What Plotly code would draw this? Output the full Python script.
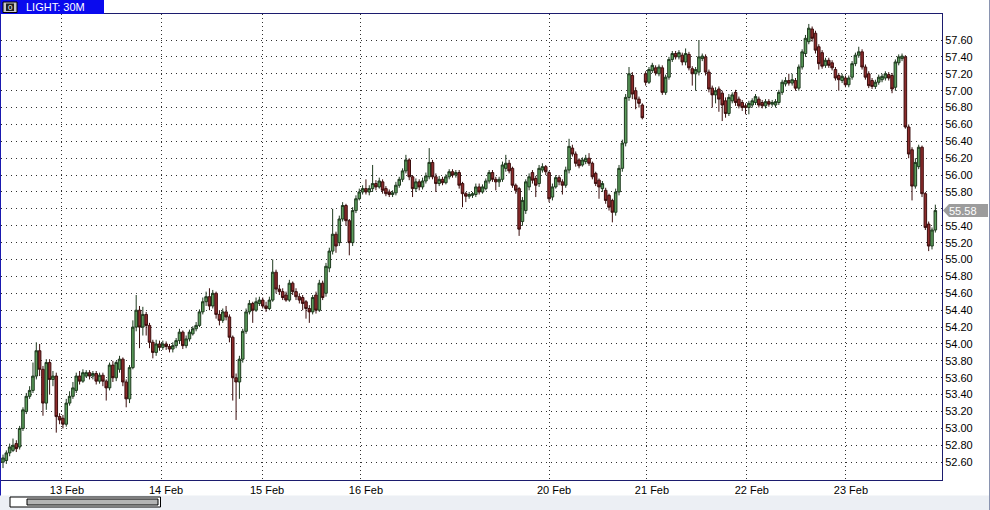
import plotly.graph_objects as go

# ---------------- data (30-minute bars, LIGHT crude) ----------------
opens = [
    52.60, 52.62, 52.71, 52.74, 52.82, 52.78, 53.00, 53.20, 53.38, 53.45, 53.62, 53.92, 53.70, 53.30, 53.78, 53.58, 53.62, 53.14,
    53.12, 53.05, 53.30, 53.38, 53.45, 53.62, 53.56, 53.62, 53.66, 53.62, 53.65, 53.56, 53.63, 53.56, 53.48, 53.75, 53.60, 53.70, 53.82, 53.55, 53.35, 53.72, 54.20, 54.40, 54.20, 54.35, 54.22, 54.02, 53.90, 54.00,
    53.96, 54.00, 53.97, 53.94, 53.98, 54.04, 54.14, 53.98, 54.06, 54.12, 54.18, 54.22, 54.38, 54.50, 54.56, 54.45, 54.60, 54.35, 54.28, 54.38, 54.32, 54.08, 53.60, 53.55, 53.82, 54.15, 54.38, 54.48, 54.40, 54.48,
    54.52, 54.45, 54.42, 54.52, 54.85, 54.65, 54.62, 54.58, 54.52, 54.72, 54.62, 54.56, 54.55, 54.50, 54.42, 54.38, 54.58, 54.40, 54.72, 54.60, 54.90, 55.10, 55.30, 55.20, 55.48, 55.64, 55.46, 55.20, 55.58, 55.72,
    55.80, 55.84, 55.80, 55.84, 55.90, 55.86, 55.92, 55.84, 55.80, 55.77, 55.79, 55.88, 55.95, 56.05, 56.18, 55.98, 55.84, 55.92, 55.86, 55.93, 55.98, 56.15, 55.98, 55.90, 55.95, 55.91, 55.98, 56.04,
    56.00, 56.03, 55.90, 55.78, 55.75, 55.76, 55.77, 55.86, 55.80, 55.84, 55.93, 56.03, 55.95, 55.92, 55.95, 56.08, 56.14, 56.08, 55.88, 55.84, 55.45, 55.58, 55.86, 56.03, 55.96, 55.90, 56.06, 56.10,
    56.03, 55.74, 55.86, 55.97, 55.92, 55.88, 56.06, 56.32, 56.25, 56.18, 56.12, 56.16, 56.20, 56.14, 56.02, 55.94, 55.84, 55.82, 55.76, 55.70, 55.56, 55.80, 56.08, 56.38, 56.92, 57.18, 57.00, 56.90, 56.83,
    57.20, 57.10, 57.24, 57.27, 57.20, 57.27, 56.98, 57.16, 57.37, 57.44, 57.40, 57.42, 57.34, 57.43, 57.26, 57.20, 57.22, 57.38, 57.40, 57.22, 57.03, 56.95, 57.02, 56.97, 56.88, 56.73, 56.88, 56.98, 56.90, 56.86,
    56.82, 56.80, 56.83, 56.86, 56.90, 56.86, 56.82, 56.87, 56.84, 56.83, 56.86, 56.98, 57.08, 57.12, 57.09, 57.12, 57.03, 57.28, 57.44, 57.58, 57.73, 57.68, 57.52, 57.45, 57.30, 57.36, 57.33, 57.25, 57.18, 57.12,
    57.15, 57.07, 57.16, 57.32, 57.42, 57.46, 57.28, 57.20, 57.12, 57.05, 57.10, 57.13, 57.15, 57.19, 57.18, 57.04, 57.33, 57.38, 57.40, 56.57, 56.30, 55.87, 56.10, 56.33, 55.78, 55.42, 55.16, 55.35,
]
highs = [
    52.69, 52.74, 52.82, 52.88, 52.86, 53.03, 53.25, 53.42, 53.50, 53.78, 54.02, 54.00, 53.74, 53.82, 53.82, 53.68, 53.66, 53.18,
    53.16, 53.35, 53.44, 53.55, 53.66, 53.68, 53.70, 53.69, 53.69, 53.68, 53.68, 53.66, 53.66, 53.58, 53.78, 53.80, 53.80, 53.86, 53.84, 53.58, 53.75, 54.28, 54.58, 54.45, 54.44, 54.38, 54.25, 54.05, 54.05, 54.04,
    54.04, 54.03, 54.00, 54.02, 54.07, 54.18, 54.16, 54.10, 54.17, 54.21, 54.26, 54.41, 54.55, 54.62, 54.66, 54.64, 54.62, 54.40, 54.42, 54.45, 54.35, 54.10, 53.65, 53.86, 54.18, 54.42, 54.52, 54.50, 54.55, 54.56,
    54.55, 54.50, 54.56, 55.00, 54.88, 54.70, 54.66, 54.62, 54.76, 54.74, 54.66, 54.60, 54.58, 54.52, 54.46, 54.58, 54.62, 54.76, 54.75, 54.96, 55.14, 55.60, 55.33, 55.52, 55.68, 55.66, 55.48, 55.62, 55.76, 55.84,
    55.88, 55.95, 55.88, 56.12, 55.94, 55.97, 55.95, 55.87, 55.83, 55.82, 55.92, 55.98, 56.08, 56.24, 56.20, 56.00, 55.96, 55.95, 55.97, 56.03, 56.32, 56.18, 56.02, 55.99, 55.98, 56.01, 56.07, 56.07,
    56.06, 56.06, 55.92, 55.80, 55.80, 55.80, 55.90, 55.90, 55.89, 55.96, 56.06, 56.06, 55.98, 55.98, 56.16, 56.24, 56.18, 56.10, 55.90, 55.86, 55.74, 55.95, 56.02, 56.06, 55.99, 56.12, 56.14, 56.12,
    56.05, 55.90, 56.00, 56.00, 55.95, 56.10, 56.43, 56.36, 56.28, 56.20, 56.21, 56.24, 56.26, 56.16, 56.04, 55.96, 55.93, 55.85, 55.78, 55.72, 55.84, 56.12, 56.42, 56.96, 57.28, 57.22, 57.04, 56.93, 56.85,
    57.23, 57.28, 57.33, 57.30, 57.31, 57.30, 57.19, 57.40, 57.47, 57.47, 57.48, 57.45, 57.50, 57.46, 57.29, 57.28, 57.60, 57.44, 57.43, 57.25, 57.06, 57.04, 57.05, 57.00, 56.92, 56.96, 56.98, 57.01, 56.93, 56.89,
    56.85, 56.88, 56.91, 56.96, 56.93, 56.89, 56.90, 56.90, 56.89, 56.90, 57.01, 57.13, 57.16, 57.20, 57.20, 57.15, 57.31, 57.49, 57.66, 57.79, 57.76, 57.71, 57.55, 57.48, 57.39, 57.39, 57.36, 57.28, 57.21, 57.20,
    57.18, 57.18, 57.35, 57.45, 57.52, 57.49, 57.31, 57.23, 57.15, 57.13, 57.19, 57.20, 57.23, 57.22, 57.21, 57.37, 57.43, 57.44, 57.42, 56.60, 56.33, 56.20, 56.36, 56.35, 55.80, 55.45, 55.38, 55.65,
]
lows = [
    52.53, 52.58, 52.67, 52.72, 52.72, 52.75, 52.97, 53.17, 53.35, 53.42, 53.58, 53.62, 53.15, 53.22, 53.40, 53.50, 52.95, 53.05,
    53.00, 53.02, 53.27, 53.35, 53.42, 53.52, 53.54, 53.60, 53.58, 53.58, 53.52, 53.53, 53.50, 53.33, 53.45, 53.55, 53.56, 53.66, 53.50, 53.25, 53.30, 53.70, 54.15, 53.95, 54.10, 54.10, 53.95, 53.83, 53.86, 53.92,
    53.93, 53.93, 53.90, 53.90, 53.95, 54.00, 53.94, 53.95, 54.03, 54.10, 54.15, 54.20, 54.35, 54.45, 54.40, 54.42, 54.30, 54.22, 54.25, 54.28, 54.02, 53.33, 53.10, 53.35, 53.78, 54.12, 54.35, 54.25, 54.38, 54.45,
    54.42, 54.38, 54.40, 54.50, 54.60, 54.58, 54.52, 54.50, 54.50, 54.58, 54.52, 54.48, 54.40, 54.30, 54.25, 54.35, 54.36, 54.38, 54.52, 54.56, 54.85, 55.06, 55.08, 55.16, 55.45, 55.40, 55.05, 55.16, 55.55, 55.70,
    55.77, 55.77, 55.76, 55.80, 55.82, 55.84, 55.78, 55.75, 55.74, 55.74, 55.76, 55.85, 55.92, 56.02, 55.94, 55.74, 55.80, 55.82, 55.83, 55.90, 55.95, 55.95, 55.80, 55.87, 55.88, 55.89, 55.95, 55.97,
    55.97, 55.84, 55.62, 55.68, 55.72, 55.73, 55.74, 55.77, 55.78, 55.82, 55.90, 55.92, 55.82, 55.86, 55.92, 56.04, 56.02, 55.85, 55.78, 55.28, 55.40, 55.54, 55.82, 55.90, 55.74, 55.86, 56.03, 56.00,
    55.68, 55.70, 55.84, 55.88, 55.77, 55.85, 56.02, 56.22, 56.10, 56.08, 56.10, 56.13, 56.11, 55.95, 55.87, 55.72, 55.80, 55.66, 55.58, 55.44, 55.52, 55.76, 56.04, 56.34, 56.88, 56.90, 56.78, 56.80, 56.66,
    57.06, 57.08, 57.21, 57.18, 57.17, 56.95, 56.95, 57.13, 57.34, 57.37, 57.37, 57.30, 57.30, 57.24, 57.06, 57.00, 57.18, 57.35, 57.18, 56.98, 56.80, 56.85, 56.75, 56.64, 56.68, 56.70, 56.85, 56.82, 56.79, 56.76,
    56.72, 56.72, 56.80, 56.83, 56.80, 56.79, 56.79, 56.81, 56.81, 56.80, 56.83, 56.95, 57.05, 57.06, 57.06, 57.00, 57.00, 57.25, 57.40, 57.55, 57.58, 57.44, 57.25, 57.26, 57.27, 57.27, 57.24, 57.12, 57.00, 57.09,
    57.04, 57.04, 57.13, 57.29, 57.39, 57.25, 57.13, 57.03, 57.02, 57.02, 57.07, 57.10, 57.12, 57.12, 56.97, 57.00, 57.30, 57.35, 56.55, 56.20, 55.70, 55.84, 56.07, 55.74, 55.35, 55.10, 55.12, 55.32,
]
closes = [
    52.65, 52.71, 52.78, 52.80, 52.76, 53.00, 53.22, 53.38, 53.45, 53.62, 53.92, 53.70, 53.30, 53.78, 53.58, 53.62, 53.14, 53.10,
    53.05, 53.30, 53.38, 53.48, 53.62, 53.56, 53.66, 53.66, 53.62, 53.65, 53.56, 53.63, 53.56, 53.48, 53.75, 53.60, 53.78, 53.82, 53.55, 53.35, 53.72, 54.20, 54.40, 54.20, 54.35, 54.22, 54.02, 53.90, 54.00, 53.96,
    54.00, 53.97, 53.94, 53.98, 54.04, 54.14, 53.98, 54.06, 54.14, 54.18, 54.22, 54.38, 54.50, 54.56, 54.45, 54.60, 54.35, 54.28, 54.38, 54.32, 54.08, 53.60, 53.55, 53.82, 54.15, 54.38, 54.48, 54.40, 54.50, 54.52,
    54.45, 54.42, 54.52, 54.85, 54.65, 54.62, 54.55, 54.52, 54.72, 54.62, 54.56, 54.52, 54.48, 54.42, 54.38, 54.55, 54.40, 54.72, 54.55, 54.92, 55.10, 55.30, 55.16, 55.48, 55.64, 55.46, 55.20, 55.58, 55.72, 55.80,
    55.84, 55.80, 55.84, 55.90, 55.86, 55.93, 55.82, 55.78, 55.77, 55.79, 55.88, 55.95, 56.05, 56.18, 55.98, 55.84, 55.92, 55.86, 55.93, 55.99, 56.15, 55.98, 55.90, 55.95, 55.91, 55.98, 56.04, 56.00,
    56.03, 55.88, 55.78, 55.75, 55.77, 55.78, 55.86, 55.80, 55.86, 55.93, 56.03, 55.95, 55.92, 55.95, 56.12, 56.14, 56.05, 55.88, 55.82, 55.36, 55.70, 55.92, 55.98, 55.94, 55.88, 56.08, 56.10, 56.04,
    55.72, 55.86, 55.97, 55.92, 55.88, 56.06, 56.34, 56.25, 56.14, 56.11, 56.18, 56.20, 56.14, 55.98, 55.90, 55.86, 55.90, 55.70, 55.62, 55.56, 55.80, 56.08, 56.38, 56.92, 57.20, 56.96, 56.90, 56.85, 56.68,
    57.10, 57.25, 57.30, 57.21, 57.28, 56.98, 57.16, 57.37, 57.44, 57.40, 57.45, 57.34, 57.44, 57.27, 57.20, 57.25, 57.40, 57.41, 57.22, 57.02, 56.95, 57.00, 56.90, 56.83, 56.73, 56.92, 56.95, 56.86, 56.82, 56.80,
    56.80, 56.85, 56.88, 56.93, 56.83, 56.82, 56.87, 56.84, 56.86, 56.87, 56.98, 57.10, 57.12, 57.09, 57.13, 57.03, 57.28, 57.46, 57.62, 57.74, 57.62, 57.48, 57.32, 57.29, 57.36, 57.30, 57.27, 57.15, 57.13, 57.17,
    57.07, 57.15, 57.32, 57.42, 57.46, 57.28, 57.16, 57.06, 57.05, 57.10, 57.16, 57.17, 57.20, 57.15, 57.02, 57.34, 57.40, 57.41, 56.57, 56.25, 55.87, 56.15, 56.33, 55.78, 55.38, 55.16, 55.35, 55.58,
]
assert len(opens) == len(highs) == len(lows) == len(closes), (len(opens), len(highs), len(lows), len(closes))

# session starts (bar position) and their labels
day_starts = [17.7, 47.45, 77.8, 107.5, 164.0, 193.4, 223.4, 253.15]
day_labels = ["13 Feb", "14 Feb", "15 Feb", "16 Feb", "20 Feb", "21 Feb", "22 Feb", "23 Feb"]

price_ticks = [52.60, 52.80, 53.00, 53.20, 53.40, 53.60, 53.80, 54.00, 54.20, 54.40, 54.60, 54.80, 55.00,
               55.20, 55.40, 55.60, 55.80, 56.00, 56.20, 56.40, 56.60, 56.80, 57.00, 57.20, 57.40, 57.60]
title_text = "LIGHT: 30M"

bar_index = list(range(len(closes)))
last_close = closes[-1]
# the tick label sitting under the last-price tag is hidden by it (as in the source chart)
price_ticktext = ["" if abs(v - last_close) < 0.1 else f"{v:.2f}" for v in price_ticks]

# ---------------- figure ----------------
W, H = 990, 510
ML, MR, MT, MB = 1, 48, 14, 30
PW, PH = W - ML - MR, H - MT - MB


def px_x(px):
    return (px - ML) / PW


def px_y(py):
    return (H - MB - py) / PH


FONT = "Liberation Sans, Arial, sans-serif"
NAVY = "#1c1c6e"

fig = go.Figure()
fig.add_trace(go.Candlestick(
    x=bar_index, open=opens, high=highs, low=lows, close=closes,
    increasing=dict(line=dict(color="#1f3a1f", width=1), fillcolor="#5c9e5c"),
    decreasing=dict(line=dict(color="#3c0e0e", width=1), fillcolor="#8e2c2c"),
    whiskerwidth=0, hoverinfo="skip", showlegend=False,
))

shapes = [
    # header tab
    dict(type="rect", xref="paper", yref="paper", x0=px_x(0), x1=px_x(104), y0=px_y(14), y1=px_y(0),
         fillcolor="#0a0aee", line=dict(width=0), layer="above"),
    dict(type="rect", xref="paper", yref="paper", x0=px_x(3), x1=px_x(17), y0=px_y(12.5), y1=px_y(2),
         fillcolor="#c8c8c8", line=dict(color="#000000", width=1), layer="above"),
    dict(type="rect", xref="paper", yref="paper", x0=px_x(6), x1=px_x(14), y0=px_y(11), y1=px_y(3.5),
         fillcolor="#202020", line=dict(width=0), layer="above"),
    # bottom strip and scrollbar
    dict(type="rect", xref="paper", yref="paper", x0=px_x(0), x1=px_x(990), y0=px_y(510), y1=px_y(495.5),
         fillcolor="#eceff4", line=dict(width=0), layer="above"),
    dict(type="rect", xref="paper", yref="paper", x0=px_x(10), x1=px_x(160.5), y0=px_y(507), y1=px_y(497),
         fillcolor="#ffffff", line=dict(color="#000000", width=1), layer="above"),
    dict(type="rect", xref="paper", yref="paper", x0=px_x(27), x1=px_x(158), y0=px_y(505), y1=px_y(499),
         fillcolor="#b4b4b4", line=dict(color="#000000", width=1), layer="above"),
    # window borders
    dict(type="line", xref="paper", yref="paper", x0=px_x(0.5), x1=px_x(0.5), y0=px_y(495.5), y1=px_y(0),
         line=dict(color="#1a1ab0", width=1), layer="above"),
    dict(type="line", xref="paper", yref="paper", x0=px_x(989.5), x1=px_x(989.5), y0=px_y(510), y1=px_y(0),
         line=dict(color="#8a94b0", width=1), layer="above"),
    # last price tag
    dict(type="path", xref="paper", yref="y", xsizemode="pixel", ysizemode="pixel",
         xanchor=1.0, yanchor=last_close,
         path="M 1,0 L 7,6.5 L 46,6.5 L 46,-6.5 L 7,-6.5 Z",
         fillcolor="#9c9c9c", line=dict(width=0), layer="above"),
]

annotations = [
    dict(text=title_text, xref="paper", yref="paper", x=px_x(24), y=px_y(7), xanchor="left", yanchor="middle",
         showarrow=False, font=dict(family=FONT, size=11, color="#ffffff")),
    dict(text="0", xref="paper", yref="paper", x=px_x(10), y=px_y(7.3), xanchor="center", yanchor="middle",
         showarrow=False, font=dict(family=FONT, size=8, color="#ffffff")),
    dict(text=f"{last_close:.2f}", xref="paper", yref="y", x=px_x(947), y=last_close, xanchor="left",
         yanchor="middle", showarrow=False, font=dict(family=FONT, size=11, color="#ffffff")),
]

fig.update_layout(
    width=W, height=H,
    margin=dict(l=ML, r=MR, t=MT, b=MB, pad=0),
    paper_bgcolor="#ffffff", plot_bgcolor="#ffffff",
    showlegend=False,
    boxgap=0.15, boxgroupgap=0.1,
    shapes=shapes, annotations=annotations,
    xaxis=dict(
        range=[-0.6, 282.0], rangeslider=dict(visible=False),
        tickmode="array", tickvals=day_starts, ticktext=day_labels,
        ticks="", ticklabelshift=5,
        tickfont=dict(family=FONT, size=11, color="#000000"),
        showgrid=True, gridcolor="#303030", gridwidth=1, griddash="1px,3px",
        showline=True, linecolor=NAVY, linewidth=1, mirror=True, zeroline=False, fixedrange=True,
    ),
    yaxis=dict(
        side="right", range=[52.389, 57.908],
        tickmode="array", tickvals=price_ticks, ticktext=price_ticktext,
        ticks="", tickfont=dict(family=FONT, size=11, color="#000000"),
        showgrid=True, gridcolor="#303030", gridwidth=1, griddash="1px,4px",
        showline=True, linecolor=NAVY, linewidth=1, mirror=True, zeroline=False, fixedrange=True,
    ),
)

fig.write_html(
    "out.html",
    config={"displayModeBar": False, "staticPlot": True},
    post_script="document.body.style.margin='0';document.body.style.overflow='hidden';",
)
